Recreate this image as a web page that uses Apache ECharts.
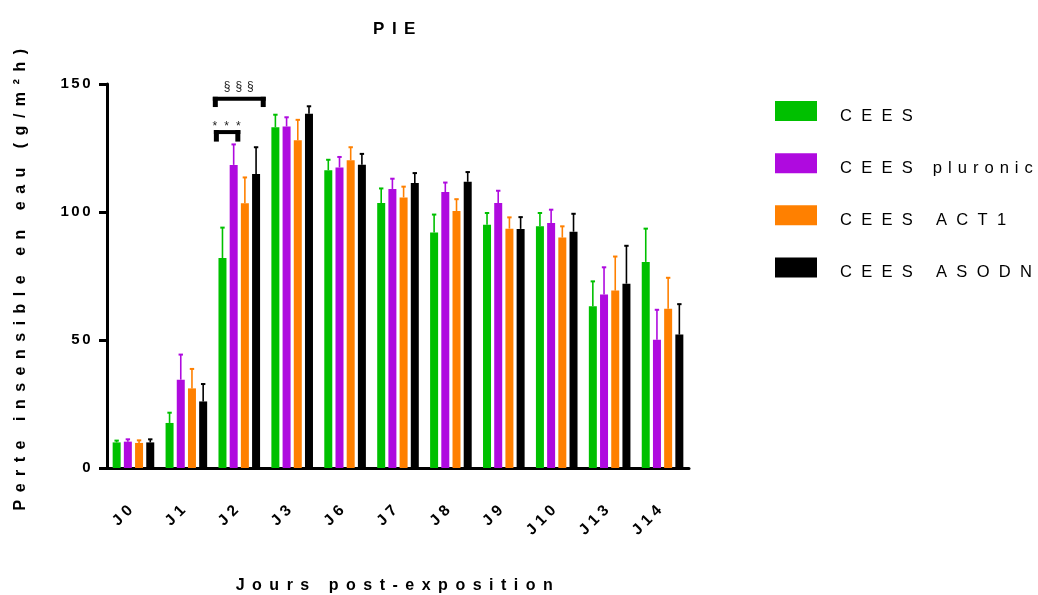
<!DOCTYPE html>
<html>
<head>
<meta charset="utf-8">
<script src="https://cdn.jsdelivr.net/npm/echarts@6/dist/echarts.min.js"></script>
<style>html,body{margin:0;padding:0;background:#fff}#c{width:1038px;height:595px}</style>
</head>
<body>
<div id="c"></div>
<script>
// ---- data ----
const categories = ['J0','J1','J2','J3','J6','J7','J8','J9','J10','J13','J14'];
const seriesNames = ['CEES','CEES pluronic','CEES ACT1','CEES ASODN'];
const ceesMean      = [10.0, 17.6, 82.0, 133.1, 116.3, 103.5, 92.0, 95.0, 94.4, 63.2, 80.5];
const ceesSD        = [0.7, 4.0, 11.9, 4.9, 4.1, 5.7, 7.0, 4.6, 5.2, 9.7, 13.0];
const pluronicMean  = [10.3, 34.5, 118.4, 133.4, 117.4, 109.0, 107.8, 103.5, 95.7, 67.8, 50.1];
const pluronicSD    = [0.9, 9.8, 8.0, 3.6, 4.1, 4.0, 3.7, 4.8, 5.2, 10.6, 11.7];
const act1Mean      = [9.8, 31.1, 103.4, 128.0, 120.2, 105.7, 100.4, 93.5, 90.0, 69.3, 62.2];
const act1SD        = [1.0, 7.6, 10.1, 8.0, 5.1, 4.2, 4.6, 4.4, 4.4, 13.3, 12.1];
const asodnMean     = [10.0, 26.0, 114.8, 138.4, 118.5, 111.3, 111.8, 93.4, 92.3, 72.0, 52.1];
const asodnSD       = [1.2, 6.8, 10.5, 2.9, 4.2, 3.9, 3.8, 4.6, 7.0, 14.8, 11.9];
const yTicks = [0, 50, 100, 150];
// significance annotations: [category, bracket top value, leg bottom value, label, from, to (fraction of band)]
const sigAnnotations = [
  ['J2', 145, 141, '§§§', -0.5, 0.5],
  ['J2', 132, 127.5, '***', -0.48, 0.02]
];

// ---- letter spacing emulation (text remains real text) ----
(function(){
  const P = CanvasRenderingContext2D.prototype;
  const d = Object.getOwnPropertyDescriptor(P, 'font');
  if (!d || !('letterSpacing' in P)) return;
  const table = [
    [/bold 17px/, '7.5px'],     // title
    [/bold 16px/, '7.5px'],     // axis names
    [/bold 15px/, '2.5px'],     // y tick labels
    [/bold 15\.5px/, '4.5px'],  // x tick labels
    [/16\.5px/, '9.3px'],       // legend upper case
    [/16\.6px/, '6px'],         // legend lower case
    [/12px/, '5px'],            // §§§
    [/12\.1px/, '7px']          // ***
  ];
  Object.defineProperty(P, 'font', {
    configurable: true,
    get(){ return d.get.call(this); },
    set(v){
      d.set.call(this, v);
      let ls = '0px';
      for (const [re, s] of table) { if (re.test(v)) { ls = s; break; } }
      try { this.letterSpacing = ls; } catch(e) {}
    }
  });
})();

const colors = ['#00C000', '#AF0ADF', '#FF8000', '#000000'];
const means = [ceesMean, pluronicMean, act1Mean, asodnMean];
const sds = [ceesSD, pluronicSD, act1SD, asodnSD];
const FONT = '"Liberation Sans", Arial, sans-serif';
const BAR_W = 8, BAR_GAP = 0.4;

const chart = echarts.init(document.getElementById('c'), null, {renderer: 'canvas'});

const series = [];
means.forEach((m, i) => {
  series.push({
    name: seriesNames[i], type: 'bar', data: m, barWidth: BAR_W, barGap: (BAR_GAP*100)+'%',
    itemStyle: {color: colors[i]}, z: 2
  });
});
means.forEach((m, i) => {
  const off = (i - 1.5) * BAR_W * (1 + BAR_GAP);
  series.push({
    type: 'custom', name: seriesNames[i], z: 3, silent: true,
    data: m.map((v, k) => [k, v, v + sds[i][k]]),
    encode: {x: 0, y: [1, 2]},
    renderItem(params, api) {
      const base = api.coord([api.value(0), api.value(1)]);
      const top = api.coord([api.value(0), api.value(2)]);
      const x = base[0] + off;
      return {type: 'group', children: [
        {type: 'line', shape: {x1: x, y1: base[1], x2: x, y2: top[1]}, style: {stroke: colors[i], lineWidth: 1.6}},
        {type: 'line', shape: {x1: x - 2.2, y1: top[1], x2: x + 2.2, y2: top[1]}, style: {stroke: colors[i], lineWidth: 2}}
      ]};
    }
  });
});
series.push({
  type: 'custom', z: 4, silent: true,
  data: sigAnnotations.map(a => [categories.indexOf(a[0]), a[1], a[2], a[4], a[5]]),
  renderItem(params, api) {
    const a = sigAnnotations[params.dataIndex];
    const band = api.size([1, 0])[0];
    const c = api.coord([api.value(0), api.value(1)]);
    const b = api.coord([api.value(0), api.value(2)]);
    const x1 = c[0] + api.value(3) * band, x2 = c[0] + api.value(4) * band;
    const isStar = a[3] === '***';
    return {type: 'group', children: [
      {type: 'rect', shape: {x: x1, y: c[1], width: x2 - x1, height: 4}, style: {fill: '#000'}},
      {type: 'rect', shape: {x: x1, y: c[1], width: 5, height: b[1] - c[1]}, style: {fill: '#000'}},
      {type: 'rect', shape: {x: x2 - 5, y: c[1], width: 5, height: b[1] - c[1]}, style: {fill: '#000'}},
      {type: 'text', style: {text: a[3], x: (x1 + x2) / 2 + (isStar ? 3 : 2), y: isStar ? c[1] + 6 : c[1] - 2,
        align: 'center', verticalAlign: 'bottom',
        font: 'normal ' + (isStar ? '12.1px ' : '12px ') + FONT, fill: '#222'}}
    ]};
  }
});

chart.setOption({
  animation: false,
  backgroundColor: '#fff',
  color: colors,
  title: {
    text: 'PIE', left: 393, top: 12, textAlign: 'center',
    textStyle: {fontFamily: FONT, fontWeight: 'bold', fontSize: 17, color: '#000'}
  },
  legend: {
    orient: 'vertical', left: 775, top: 101, padding: 0, itemWidth: 42, itemHeight: 20, itemGap: 24,
    icon: 'rect', selectedMode: false,
    data: seriesNames,
    formatter: name => {
      const sp = name.indexOf(' ');
      const first = name.slice(0, sp);
      const rest = name.slice(sp);
      const key = /[a-z]/.test(rest) ? 'l' : 'u';
      return '{u|' + first + '}{' + key + '|' + rest + '}';
    },
    textStyle: {
      fontFamily: FONT, color: '#000', padding: [10, 0, 0, 18],
      rich: {
        u: {fontFamily: FONT, fontWeight: 'normal', fontSize: 16.5, lineHeight: 20, color: '#000'},
        l: {fontFamily: FONT, fontWeight: 'normal', fontSize: 16.6, lineHeight: 20, color: '#000'}
      }
    }
  },
  grid: {left: 107, right: 349, top: 84, bottom: 127, containLabel: false, outerBoundsMode: 'none'},
  xAxis: {
    type: 'category', data: categories,
    axisLine: {lineStyle: {color: '#000', width: 3}},
    axisTick: {alignWithLabel: true, length: 9, lineStyle: {color: '#000', width: 3}},
    axisLabel: {rotate: 45, margin: 37, color: '#000', fontFamily: FONT, fontWeight: 'bold', fontSize: 15.5},
    name: 'Jours post-exposition', nameLocation: 'middle', nameGap: 106,
    nameTextStyle: {fontFamily: FONT, fontWeight: 'bold', fontSize: 16, color: '#000'}
  },
  yAxis: {
    type: 'value', min: 0, max: 150, interval: 50,
    axisLine: {show: true, lineStyle: {color: '#000', width: 3}},
    axisTick: {show: true, length: 8, lineStyle: {color: '#000', width: 3}},
    splitLine: {show: false},
    axisLabel: {margin: 14, color: '#000', fontFamily: FONT, fontWeight: 'bold', fontSize: 15,
      formatter: v => yTicks.includes(v) ? String(v) : ''},
    name: 'Perte insensible en eau (g/m²h)', nameLocation: 'middle', nameGap: 75, nameRotate: 90,
    nameTextStyle: {fontFamily: FONT, fontWeight: 'bold', fontSize: 16, color: '#000'}
  },
  series
});
</script>
</body>
</html>
